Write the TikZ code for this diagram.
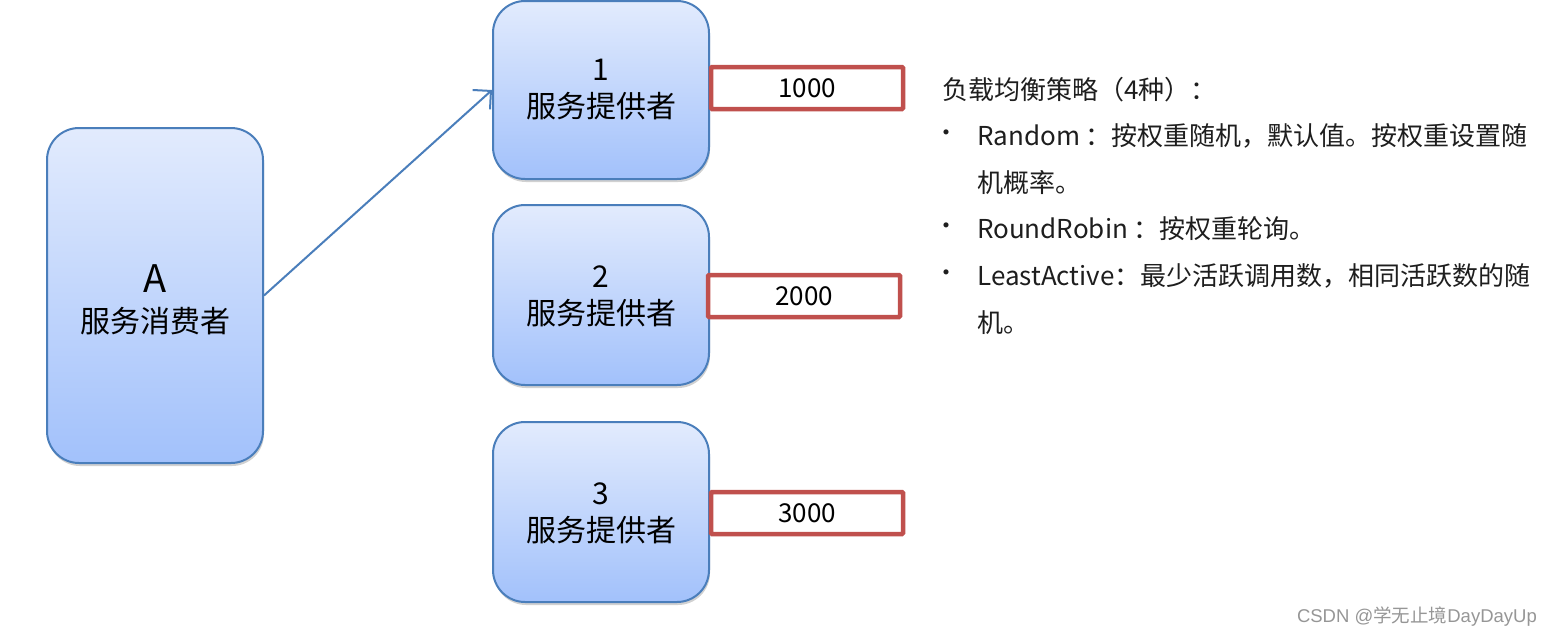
\documentclass[tikz,border=0pt]{standalone}
\usepackage{fontspec}
\setmainfont{Noto Sans CJK SC}
\newfontfamily\wmlat{Liberation Sans}
\usetikzlibrary{arrows.meta,shadows}
\definecolor{boxtop}{RGB}{226,235,253}
\definecolor{boxbot}{RGB}{162,193,251}
\definecolor{boxline}{RGB}{74,126,187}
\definecolor{redline}{RGB}{192,80,77}
\definecolor{wmgray}{RGB}{150,150,150}
\definecolor{txtcol}{RGB}{30,30,30}
\begin{document}
\begin{tikzpicture}[x=1pt,y=-1pt,
  roundbox/.style={draw=boxline, line width=2pt, rounded corners=32pt,
    top color=boxtop, bottom color=boxbot, minimum width=216pt,
    inner sep=0pt,
    drop shadow={shadow xshift=1pt, shadow yshift=-3pt, opacity=0.18, fill=black}},
  boxtext/.style={align=center, inner sep=0pt, text=black,
    font=\fontsize{30}{37}\selectfont},
  valbox/.style={draw=redline, line width=4.5pt, fill=white, rounded corners=1pt,
    minimum width=192pt, minimum height=42pt, inner sep=0pt,
    font=\fontsize{26}{30}\selectfont},
  txt/.style={inner sep=0pt, anchor=west, text=txtcol, font=\fontsize{26}{30}\selectfont},
  bul/.style={inner sep=0pt, text=txtcol, font=\fontsize{24}{26}\selectfont},
  conn/.style={draw=boxline, line width=2pt, -{Straight Barb[length=13pt,width=26pt]}}
]
\fill[white] (0,0) rectangle (1553,637);
\useasboundingbox (0,0) rectangle (1553,637);

\node[roundbox, minimum height=335pt] (A) at (155,295.5) {};
\node[boxtext] (At) at (155,300)
  {{\fontsize{38}{42}\selectfont A}\\[3pt]服务消费者};
\node[roundbox, minimum height=178pt] (P1) at (601,90) {};
\node[boxtext] (P1t) at (601,90) {1\\服务提供者};
\node[roundbox, minimum height=180pt] (P2) at (601,295) {};
\node[boxtext] (P2t) at (601,296) {2\\服务提供者};
\node[roundbox, minimum height=180pt] (P3) at (601,512) {};
\node[boxtext] (P3t) at (601,513) {3\\服务提供者};

\node[valbox] (R1) at (807,88) {1000};
\node[valbox] (R2) at (804,296) {2000};
\node[valbox] (R3) at (807,513) {3000};

\draw[conn] (A.east) -- (P1.west);

\node[txt] (H) at (942,90) {负载均衡策略（4种）：};
\node[bul] (B1) at (946,136) {•};
\node[txt] (L1) at (977,136) {Random ：按权重随机，默认值。按权重设置随};
\node[txt] (L1b) at (977,183) {机概率。};
\node[bul] (B2) at (946,229) {•};
\node[txt] (L2) at (977,229) {RoundRobin ：按权重轮询。};
\node[bul] (B3) at (946,276) {•};
\node[txt] (L3) at (977,276) {LeastActive：最少活跃调用数，相同活跃数的随};
\node[txt] (L3b) at (977,323) {机。};

\node[inner sep=0pt, anchor=east, text=wmgray, font=\fontsize{18.5}{20}\selectfont] (WM) at (1537,617) {{\wmlat CSDN @}学无止境{\wmlat DayDayUp}};
\end{tikzpicture}
\end{document}
